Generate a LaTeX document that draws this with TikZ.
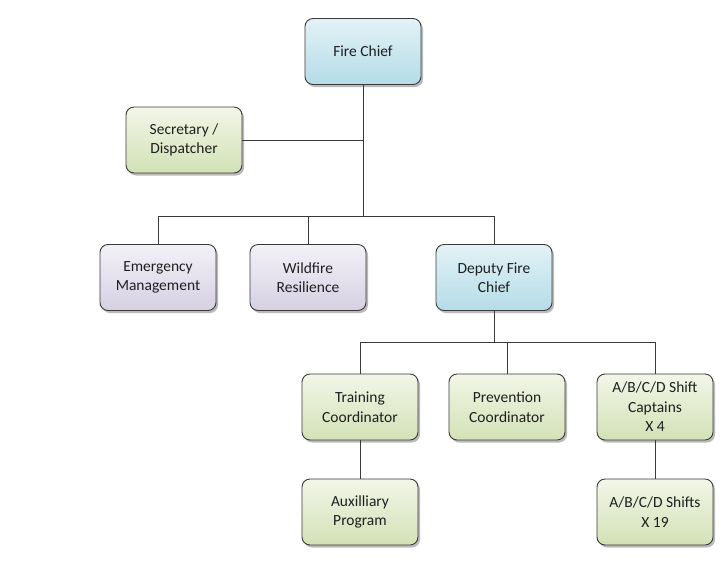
\documentclass[tikz,border=0pt]{standalone}
\usepackage{fontspec}
\setmainfont{Carlito}
\usetikzlibrary{shadows}
\definecolor{bluetop}{HTML}{E3F2F6}
\definecolor{bluebot}{HTML}{B4DCE7}
\definecolor{greentop}{HTML}{F2F6E8}
\definecolor{greenbot}{HTML}{D3E1B6}
\definecolor{purptop}{HTML}{F3F1F7}
\definecolor{purpbot}{HTML}{D6D0E3}
\definecolor{edge}{HTML}{3A3A3A}
\tikzset{
  box/.style={draw=edge, line width=0.9pt, rounded corners=8pt, minimum width=116pt, minimum height=66pt,
    align=center, font=\fontsize{15.5}{19.5}\selectfont, text=black!88, inner xsep=2pt,
    drop shadow={shadow xshift=2pt, shadow yshift=-2.5pt, fill=black!45, opacity=0.6}},
  bluebox/.style={box, top color=bluetop, bottom color=bluebot},
  greenbox/.style={box, top color=greentop, bottom color=greenbot},
  purpbox/.style={box, top color=purptop, bottom color=purpbot},
  link/.style={draw=edge, line width=0.9pt}
}
\begin{document}
\begin{tikzpicture}[x=1pt,y=-1pt]
\useasboundingbox (0,0) rectangle (723,574);
\node[bluebox] (chief) at (363,51.5) {Fire Chief};
\node[greenbox] (sec) at (184,140) {Secretary /\\Dispatcher};
\node[purpbox] (em) at (158,277.5) {Emergency\\Management};
\node[purpbox] (wr) at (308,277.5) {Wildfire\\Resilience};
\node[bluebox] (dep) at (494,277.5) {Deputy Fire\\Chief};
\node[greenbox] (tc) at (360,407) {Training\\Coordinator};
\node[greenbox] (pc) at (507,407) {Prevention\\Coordinator};
\node[greenbox] (cap) at (655,407) {A/B/C/D Shift\\Captains\\X 4};
\node[greenbox] (aux) at (360,512) {Auxilliary\\Program};
\node[greenbox] (sh) at (655,512) {A/B/C/D Shifts\\X 19};
\coordinate (bus1) at (363,216.5);
\coordinate (bus2) at (494,342.5);
\draw[link] (chief.south) -- (bus1);
\draw[link] (sec.east) -- (sec.east -| chief.south);
\draw[link] (em.north) |- (bus1);
\draw[link] (wr.north) |- (bus1);
\draw[link] (dep.north) |- (bus1);
\draw[link] (dep.south) -- (bus2);
\draw[link] (tc.north) |- (bus2);
\draw[link] (pc.north) |- (bus2);
\draw[link] (cap.north) |- (bus2);
\draw[link] (tc.south) -- (aux.north);
\draw[link] (cap.south) -- (sh.north);
\end{tikzpicture}
\end{document}
